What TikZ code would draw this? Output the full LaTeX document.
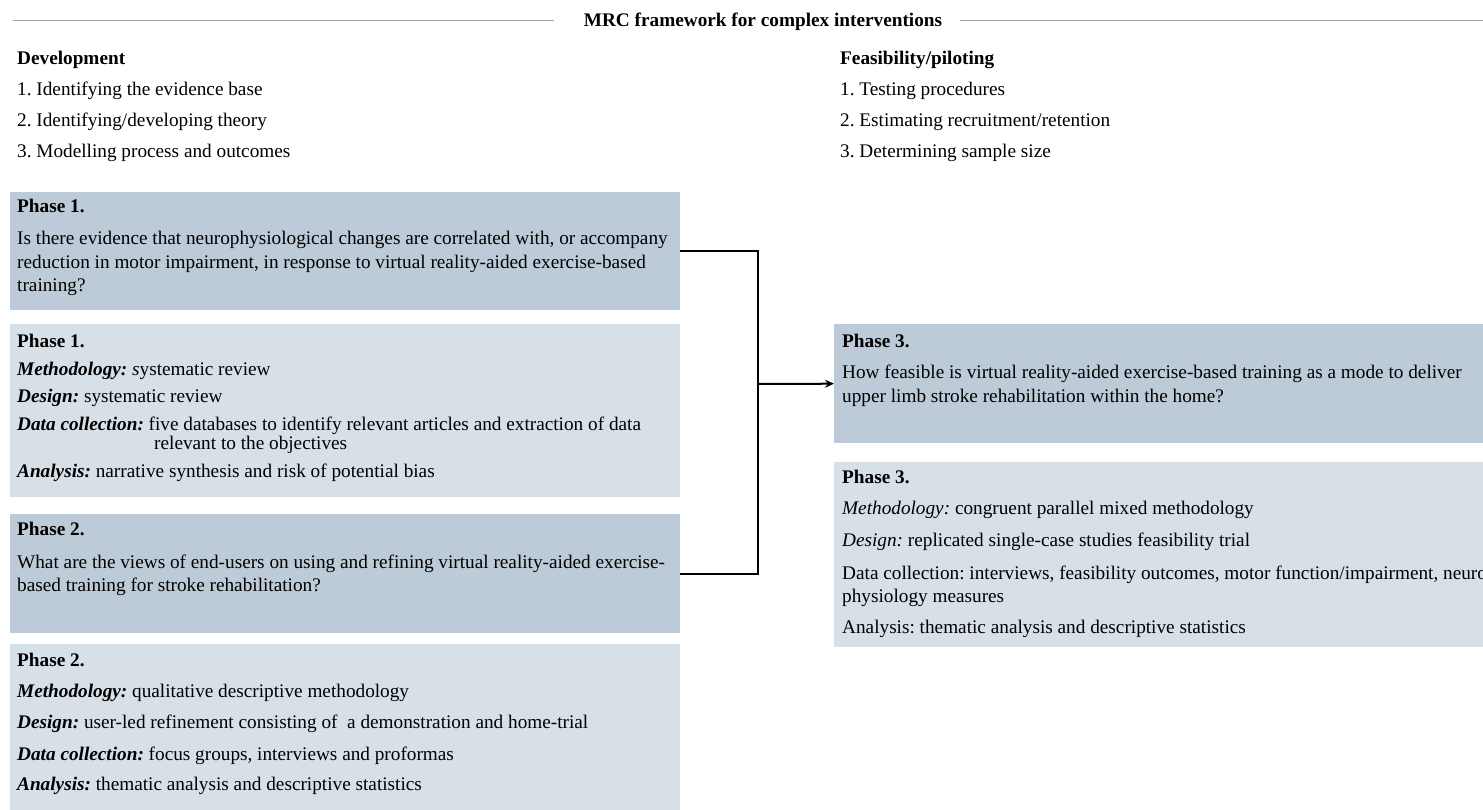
\documentclass[tikz,border=0pt]{standalone}
\usepackage{fontspec}
\setmainfont{Liberation Serif}
\usetikzlibrary{arrows.meta}
\definecolor{qfill}{HTML}{BDCAD7}
\definecolor{mfill}{HTML}{D7DFE7}
\definecolor{rulegray}{HTML}{A8A8A8}
\frenchspacing
\begin{document}
\begin{tikzpicture}[x=1pt,y=-1pt,
  txt/.style={anchor=base west,inner sep=0pt,font=\fontsize{19.25}{23}\selectfont},
  hd/.style={anchor=base west,inner sep=0pt,font=\fontsize{19.25}{23}\selectfont\bfseries},
  panel/.style={draw=none,anchor=north west,inner sep=0pt,minimum width=#1},
  question/.style={panel=670pt,fill=qfill},
  method/.style={panel=670pt,fill=mfill},
  conn/.style={line width=2pt,black},
  titlerule/.style={line width=1pt,rulegray}]
\clip (0,0) rectangle (1483,810);
\fill[white] (0,0) rectangle (1483,810);

% heading with side rules
\node[hd,anchor=base] (title) at (763,27) {MRC framework for complex interventions};
\coordinate (rl0) at (13,20.7);
\coordinate (rl1) at (554,20.7);
\coordinate (rr0) at (960,20.7);
\coordinate (rr1) at (1483,20.7);
\draw[titlerule] (rl0) -- (rl1);
\draw[titlerule] (rr0) -- (rr1);

% stage lists
\node[hd]  (dev)  at (17,65)  {Development};
\node[txt] (dev1) at (17,96)  {1. Identifying the evidence base};
\node[txt] (dev2) at (17,127) {2. Identifying/developing theory};
\node[txt] (dev3) at (17,158) {3. Modelling process and outcomes};
\node[hd]  (fea)  at (840,65)  {Feasibility/piloting};
\node[txt] (fea1) at (840,96)  {1. Testing procedures};
\node[txt] (fea2) at (840,127) {2. Estimating recruitment/retention};
\node[txt] (fea3) at (840,158) {3. Determining sample size};

% panels
\node[question,minimum height=118pt] (A) at (10,192) {};
\node[method,minimum height=173pt]   (B) at (10,324) {};
\node[question,minimum height=119pt] (C) at (10,514) {};
\node[method,minimum height=166pt]   (D) at (10,644) {};
\node[panel=660pt,fill=qfill,minimum height=119pt] (E) at (834,324) {};
\node[panel=660pt,fill=mfill,minimum height=185pt] (F) at (834,462) {};

% phase 1 question
\node[hd]  (a0) at (17,213)   {Phase 1.};
\node[txt] (a1) at (17,245)   {Is there evidence that neurophysiological changes are correlated with, or accompany};
\node[txt] (a2) at (17,268.5) {reduction in motor impairment, in response to virtual reality-aided exercise-based};
\node[txt] (a3) at (17,292)   {training?};

% phase 1 method
\node[hd]  (b0) at (17,347) {Phase 1.};
\node[txt] (b1) at (17,375) {\textbf{\textit{Methodology:}} \textit{s}ystematic review};
\node[txt] (b2) at (17,402) {\textbf{\textit{Design:}} systematic review};
\node[txt] (b3) at (17,430) {\textbf{\textit{Data collection:}} five databases to identify relevant articles and extraction of data};
\node[txt] (b4) at (154,449) {relevant to the objectives};
\node[txt] (b5) at (17,477) {\textbf{\textit{Analysis:}} narrative synthesis and risk of potential bias};

% phase 2 question
\node[hd]  (c0) at (17,535) {Phase 2.};
\node[txt] (c1) at (17,568) {What are the views of end-users on using and refining virtual reality-aided exercise-};
\node[txt] (c2) at (17,591) {based training for stroke rehabilitation?};

% phase 2 method
\node[hd]  (d0) at (17,666) {Phase 2.};
\node[txt] (d1) at (17,697) {\textbf{\textit{Methodology:}} qualitative descriptive methodology};
\node[txt] (d2) at (17,728) {\textbf{\textit{Design:}} user-led refinement consisting of\ \ a demonstration and home-trial};
\node[txt] (d3) at (17,760) {\textbf{\textit{Data collection:}} focus groups, interviews and proformas};
\node[txt] (d4) at (17,790) {\textbf{\textit{Analysis:}} thematic analysis and descriptive statistics};

% phase 3 question
\node[hd]  (e0) at (842,347) {Phase 3.};
\node[txt] (e1) at (842,378) {How feasible is virtual reality-aided exercise-based training as a mode to deliver};
\node[txt] (e2) at (842,402) {upper limb stroke rehabilitation within the home?};

% phase 3 method
\node[hd]  (f0) at (842,483) {Phase 3.};
\node[txt] (f1) at (842,514) {\textit{Methodology:} congruent parallel mixed methodology};
\node[txt] (f2) at (842,546) {\textit{Design:} replicated single-case studies feasibility trial};
\node[txt] (f3) at (842,579) {Data collection: interviews, feasibility outcomes, motor function/impairment, neuro};
\node[txt] (f4) at (842,602) {physiology measures};
\node[txt] (f5) at (842,633) {Analysis: thematic analysis and descriptive statistics};

% connectors
\coordinate (J) at (758,384);
\draw[conn] (A.east) -| (J) |- (C.east);
\draw[conn,-{Stealth[length=9pt,width=8pt]}] (J) -- (E.west);
\end{tikzpicture}
\end{document}
